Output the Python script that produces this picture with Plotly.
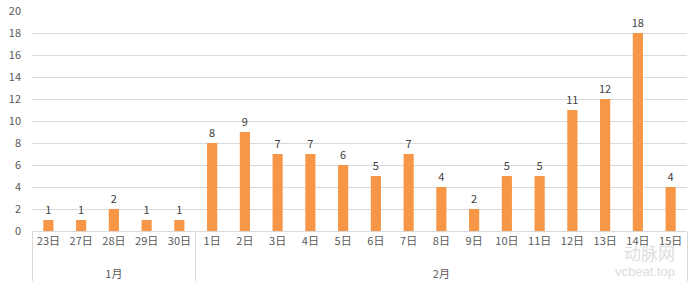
import plotly.graph_objects as go

months = ["<br>1月"] * 5 + ["<br>2月"] * 15
days = ["23日", "27日", "28日", "29日", "30日",
        "1日", "2日", "3日", "4日", "5日", "6日", "7日", "8日", "9日", "10日",
        "11日", "12日", "13日", "14日", "15日"]
values = [1, 1, 2, 1, 1, 8, 9, 7, 7, 6, 5, 7, 4, 2, 5, 5, 11, 12, 18, 4]
y_ticks = list(range(0, 21, 2))

FONT = "Microsoft YaHei, Noto Sans CJK SC, sans-serif"

fig = go.Figure(go.Bar(
    x=[months, days], y=values,
    marker=dict(color="#F79646", line=dict(width=0)),
    text=[str(v) for v in values], textposition="outside", cliponaxis=False,
    constraintext="none",
    textfont=dict(size=11, color="#404040", family=FONT),
))

fig.update_layout(
    width=700, height=282,
    margin=dict(l=32, r=13, t=11, b=51),
    paper_bgcolor="white", plot_bgcolor="white",
    bargap=0.69, showlegend=False,
    font=dict(family=FONT, size=11, color="#595959"),
    uniformtext=dict(minsize=11, mode="show"),
)
fig.update_xaxes(
    type="multicategory", showgrid=False, showline=True, linecolor="#D9D9D9", linewidth=1,
    showdividers=True, dividercolor="#D9D9D9", dividerwidth=1,
    tickfont=dict(size=11, color="#595959", family=FONT), ticks="",
    automargin=False,
)
fig.update_yaxes(
    range=[0, 20], tickvals=y_ticks, showgrid=True, gridcolor="#D9D9D9", gridwidth=1,
    zeroline=False, showline=False, ticks="", ticklen=0,
    tickfont=dict(size=11, color="#595959", family=FONT),
    ticklabelstandoff=10, automargin=False,
)

fig.add_annotation(text="动脉网", xref="paper", yref="paper", x=0.985, y=-0.03,
                   xanchor="right", yanchor="top", showarrow=False,
                   font=dict(size=17, color="#DDDDDD", family=FONT))
fig.add_annotation(text="vcbeat.top", xref="paper", yref="paper", x=0.985, y=-0.14,
                   xanchor="right", yanchor="top", showarrow=False,
                   font=dict(size=13, color="#DDDDDD", family="Arial, Liberation Sans, sans-serif"))

fig.write_html("out.html")
